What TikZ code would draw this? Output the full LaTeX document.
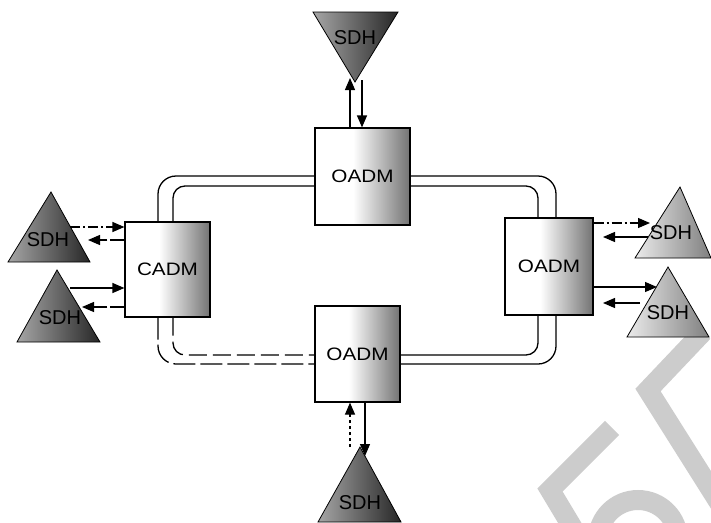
\documentclass[tikz,border=0pt]{standalone}
\usepackage{fontspec}
\usepackage{graphicx}
\setmainfont{Liberation Sans}
\usetikzlibrary{arrows.meta}
\pgfdeclarehorizontalshading{boxshade}{100bp}{color(0bp)=(white); color(45bp)=(white); color(75bp)=(black!55); color(100bp)=(black!55)}
\newcommand{\wide}[1]{\scalebox{1.15}[1]{#1}}
\begin{document}
\begin{tikzpicture}[x=1pt,y=-1pt,
  box/.style={draw=black,line width=1.2pt,shading=boxshade,inner sep=0pt,
    font=\fontsize{18}{18}\selectfont},
  tridark/.style={draw=black,line width=0.8pt,left color=black!35,right color=black!85},
  trilight/.style={draw=black,line width=0.8pt,left color=black!8,right color=black!50},
  sdh/.style={inner sep=0pt,font=\fontsize{20}{20}\selectfont},
  ring/.style={line width=1.3pt},
  arr/.style={line width=1.2pt,-{Triangle[length=12pt,width=10pt]}},
  dd/.style={dash pattern=on 10pt off 3pt on 2pt off 3pt},
  wm/.style={line width=20pt,draw=black!20}
]
\useasboundingbox (0,0) rectangle (711,522);
\fill[white] (0,0) rectangle (711,522);
% watermark
\begin{scope}
\clip (0,0) rectangle (711,522);
\draw[wm] (612,428) -- (550,490) -- (580,540);
\draw[wm] (703,332) -- (648,390) -- (730,520);
\draw[wm] (598,540) arc[start angle=180,end angle=360,radius=40];
\end{scope}
% boxes
\node[box,minimum width=95pt,minimum height=97pt] (btop) at (362.5,176.5) {\wide{OADM}};
\node[box,minimum width=85pt,minimum height=95pt] (bleft) at (167.5,269.5) {\wide{CADM}};
\node[box,minimum width=88pt,minimum height=97pt] (bright) at (549,266.5) {\wide{OADM}};
\node[box,minimum width=85pt,minimum height=96pt] (bbot) at (357.5,354) {\wide{OADM}};
% ring
\draw[ring,rounded corners=18pt] (btop.west |- 0,176) -| (bleft.north -| 158,0);
\draw[ring,rounded corners=12pt] (btop.west |- 0,186) -| (bleft.north -| 173,0);
\draw[ring,rounded corners=18pt] (btop.east |- 0,176) -| (bright.north -| 556,0);
\draw[ring,rounded corners=12pt] (btop.east |- 0,186) -| (bright.north -| 538,0);
\draw[ring,rounded corners=18pt,dash pattern=on 22pt off 5pt] (bleft.south -| 158,0) |- (bbot.west |- 0,364);
\draw[ring,rounded corners=12pt,dash pattern=on 18pt off 6pt] (bleft.south -| 173,0) |- (bbot.west |- 0,355);
\draw[ring,rounded corners=18pt] (bright.south -| 556,0) |- (bbot.east |- 0,364);
\draw[ring,rounded corners=12pt] (bright.south -| 538,0) |- (bbot.east |- 0,355);
% triangles
\path[tridark] (313,12) -- (398,12) -- (355,82) -- cycle;
\path[tridark] (51,192) -- (90,262) -- (8,262) -- cycle;
\path[tridark] (57,270) -- (100,342) -- (17,342) -- cycle;
\path[trilight] (680,187) -- (711,258) -- (635,258) -- cycle;
\path[trilight] (668,267) -- (709,337) -- (627,337) -- cycle;
\path[tridark] (360,447) -- (401,522) -- (318,522) -- cycle;
\node[sdh] (sdhT) at (355,38) {SDH};
\node[sdh] (sdhLT) at (48,240) {SDH};
\node[sdh] (sdhLB) at (60,318) {SDH};
\node[sdh] (sdhRT) at (671,233) {SDH};
\node[sdh] (sdhRB) at (668,313) {SDH};
\node[sdh] (sdhB) at (360,503) {SDH};
% arrow ends
\coordinate (tU) at (350,78);
\coordinate (tD) at (362,80);
\coordinate (bU) at (350,447);
\coordinate (bD) at (365,456);
\coordinate (l1) at (70,227);
\coordinate (l2) at (88,240);
\coordinate (l3) at (70,288);
\coordinate (l4) at (82,307);
\coordinate (r1) at (650,223);
\coordinate (r2) at (648,237);
\coordinate (r3) at (657,287);
\coordinate (r4) at (640,303);
\coordinate (r2e) at (603,237);
\coordinate (r4e) at (603,303);
% arrows top
\draw[arr] (btop.north -| tU) -- (tU);
\draw[arr] (tD) -- (btop.north -| tD);
% arrows bottom
\draw[arr,dashed] (bU) -- (bbot.south -| bU);
\draw[arr] (bbot.south -| bD) -- (bD);
% arrows left
\draw[arr,dd] (l1) -- (bleft.west |- l1);
\draw[arr,dash pattern=on 14pt off 3pt] (bleft.west |- l2) -- (l2);
\draw[arr] (l3) -- (bleft.west |- l3);
\draw[arr,dash pattern=on 14pt off 3pt] (bleft.west |- l4) -- (l4);
% arrows right
\draw[arr,dd] (bright.east |- r1) -- (r1);
\draw[arr] (r2) -- (r2e);
\draw[arr] (bright.east |- r3) -- (r3);
\draw[arr] (r4) -- (r4e);
\end{tikzpicture}
\end{document}
